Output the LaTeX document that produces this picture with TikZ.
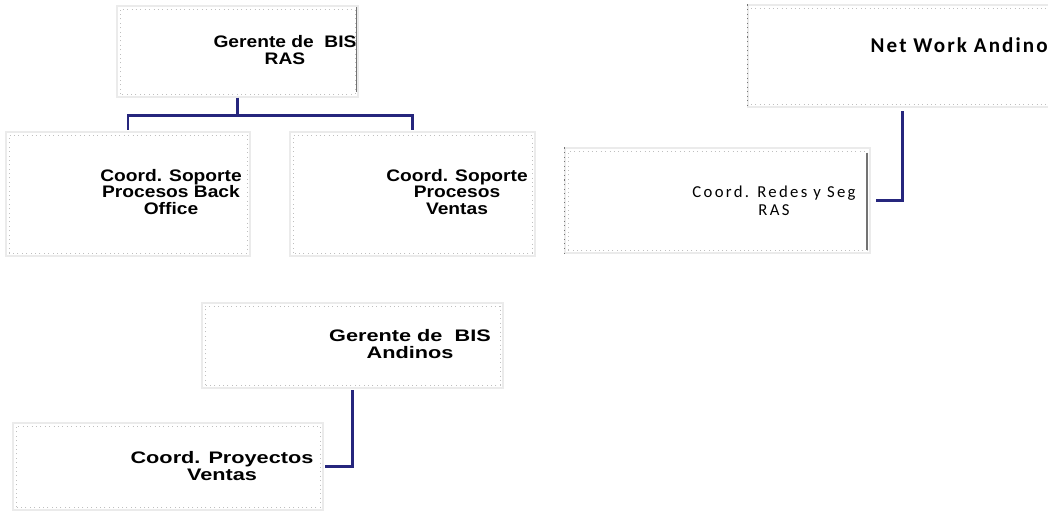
\documentclass[tikz,border=0pt]{standalone}
\usepackage{fontspec}
\setmainfont{Liberation Sans}
\newfontfamily\boldbox[FakeStretch=1.15]{Liberation Sans}
\newfontfamily\wideboldbox[FakeStretch=1.3]{Liberation Sans}
\newfontfamily\spacedsans[LetterSpace=14]{Carlito}
\newfontfamily\spacedsansbold[LetterSpace=10]{Carlito}
\definecolor{linknavy}{RGB}{38,38,125}
\begin{document}
\begin{tikzpicture}[x=0.02cm, y=-0.02cm,
  orgbox/.style 2 args={draw=black!8, line width=0.6pt, fill=white,
    minimum width=#1*0.02cm, minimum height=#2*0.02cm, inner sep=0pt},
  innerdots/.style={draw=black!25, dotted, line width=0.5pt},
  darkedge/.style={draw=black!55, line width=0.6pt},
  label/.style={align=center, inner sep=0pt, font=\boldbox\bfseries\fontsize{9.5}{9.2}\selectfont},
  widelabel/.style={align=center, inner sep=0pt, font=\wideboldbox\bfseries\fontsize{9.5}{10.2}\selectfont},
  link/.style={draw=linknavy, line width=1.7pt}]
\useasboundingbox (0,0) rectangle (1048,512);

% boxes
\node[orgbox={241}{91}]  (b1) at (237.5,51.5) {};
\node[orgbox={244}{124}] (b2) at (128,194) {};
\node[orgbox={245}{124}] (b3) at (412.5,194) {};
\node[orgbox={308}{102}] (b4) at (902,56) {};
\node[orgbox={305}{105}] (b5) at (717.5,200.5) {};
\node[orgbox={301}{85}]  (b6) at (352.5,345.5) {};
\node[orgbox={310}{87}]  (b7) at (168,466.5) {};

% inner dotted frames
\foreach \b in {b1,b2,b3,b5,b6,b7}
  \draw[innerdots] ([xshift=2pt,yshift=2pt]\b.south west) rectangle ([xshift=-2pt,yshift=-2pt]\b.north east);
\draw[innerdots] ([xshift=2pt,yshift=-2pt]b4.north west) -- ([xshift=-2pt,yshift=-2pt]b4.north east);
\draw[innerdots] ([xshift=2pt,yshift=2pt]b4.south west) -- ([xshift=-2pt,yshift=2pt]b4.south east);

% darker edges
\draw[darkedge] ([xshift=-1pt,yshift=-1pt]b1.north east) -- ([xshift=-1pt,yshift=3pt]b1.south east);
\draw[darkedge, dotted, line width=0.9pt] (b4.north west) -- (b4.south west);
\draw[darkedge, dotted, line width=0.9pt] (b5.north west) -- (b5.south west);
\draw[darkedge] ([xshift=-2pt,yshift=-3pt]b5.north east) -- ([xshift=-2pt,yshift=2pt]b5.south east);

% texts
\node[label] (t1) at (285,50) {Gerente de\ \ BIS\\RAS};
\node[label] (t2) at (171,192) {Coord. Soporte\\Procesos Back\\Office};
\node[label] (t3) at (457,192) {Coord. Soporte\\Procesos\\Ventas};
\node[inner sep=0pt, anchor=east, font=\spacedsansbold\bfseries\fontsize{12}{14}\selectfont] (t4) at (1048,45) {Net Work Andino};
\node[align=center, inner sep=0pt, font=\spacedsans\fontsize{9.5}{10.5}\selectfont] (t5) at (774,201) {Coord. Redes y Seg\\RAS};
\node[widelabel] (t6) at (410,344) {Gerente de\ \ BIS\\Andinos};
\node[widelabel] (t7) at (222,466) {Coord. Proyectos\\Ventas};

% connectors
\draw[link] (b1.south) -- ++(0,18) coordinate (j1) -| ([yshift=1pt]b2.north);
\draw[link] (j1) -| ([yshift=1pt]b3.north);
\draw[link] ([yshift=-2pt]b4.south) |- ([xshift=3pt]b5.east);
\draw[link] ([yshift=-1pt]b6.south) |- ([xshift=1pt]b7.east);
\end{tikzpicture}
\end{document}
